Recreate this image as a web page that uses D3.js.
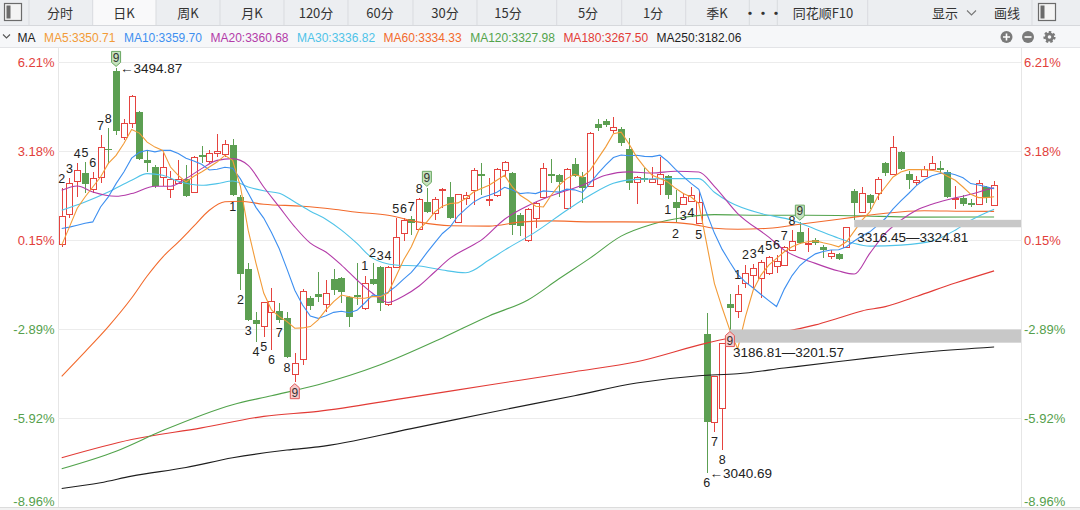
<!DOCTYPE html>
<html>
<head>
<meta charset="utf-8">
<script src="https://cdn.jsdelivr.net/npm/d3@7/dist/d3.min.js"></script>
<style>
  html, body { margin: 0; padding: 0; background: #fff; }
  svg { display: block; font-family: "Liberation Sans", Arial, "Noto Sans CJK SC", sans-serif; }
  .cjk { font-family: "Noto Sans CJK SC", "Liberation Sans", sans-serif; }
</style>
</head>
<body>
<svg id="chart" width="1080" height="510"></svg>
<script>
// daily candles, index 0 = first visible day
const opens = [
  3297.5, 3330.8, 3368.1, 3377.8, 3359.1, 3372.6, 3404.5, 3491.6, 3417.4, 3433.4,
  3445.4, 3391.6, 3383.8, 3372.6, 3359.1, 3365.8, 3370.3, 3355.8, 3397.2, 3390.8,
  3399.1, 3398.3, 3408.4, 3350.2, 3269.5, 3212.4, 3204.6, 3220.2, 3222.5, 3214.6,
  3150.8, 3167.6, 3237.0, 3241.5, 3229.2, 3258.3, 3259.4, 3238.2, 3240.4, 3224.7,
  3258.3, 3271.8, 3229.2, 3271.8, 3309.8, 3325.5, 3314.3, 3344.6, 3332.2, 3358.0,
  3350.2, 3322.2, 3349.0, 3358.0, 3375.9, 3346.8, 3352.4, 3380.4, 3377.0, 3330.0,
  3302.0, 3326.6, 3350.2, 3375.9, 3374.8, 3337.8, 3387.1, 3372.6, 3362.5, 3431.9,
  3435.3, 3425.2, 3426.3, 3403.9, 3367.0, 3371.4, 3367.0, 3364.7, 3373.7, 3344.6,
  3342.3, 3345.7, 3321.0, 3196.7, 3097.0, 3112.7, 3230.3, 3221.7, 3253.8, 3262.8,
  3259.4, 3265.0, 3272.9, 3274.0, 3290.8, 3311.0, 3297.5, 3302.0, 3294.2, 3284.1,
  3286.3, 3294.2, 3356.9, 3333.4, 3352.4, 3354.6, 3388.2, 3375.9, 3400.6, 3375.9,
  3367.0, 3373.7, 3381.5, 3382.6, 3378.2, 3347.9, 3349.0, 3343.4, 3342.3, 3361.4,
  3341.2
];
const highs = [
  3360.2, 3371.4, 3388.2, 3389.4, 3378.2, 3419.6, 3427.4, 3494.87, 3438.6, 3465.5,
  3446.5, 3402.8, 3386.0, 3399.4, 3379.3, 3391.6, 3386.0, 3396.1, 3407.3, 3402.8,
  3420.7, 3414.0, 3415.1, 3352.4, 3276.2, 3221.4, 3232.6, 3248.2, 3231.4, 3221.4,
  3175.4, 3247.1, 3239.3, 3266.2, 3257.2, 3269.5, 3260.6, 3239.3, 3276.2, 3261.7,
  3276.2, 3272.9, 3272.9, 3326.6, 3326.6, 3328.9, 3349.0, 3360.2, 3350.2, 3360.2,
  3367.0, 3353.5, 3355.8, 3382.6, 3388.2, 3371.4, 3382.6, 3390.5, 3378.2, 3332.2,
  3337.8, 3344.6, 3388.2, 3392.7, 3375.9, 3382.6, 3393.8, 3378.2, 3423.0, 3437.5,
  3438.6, 3439.8, 3428.6, 3416.2, 3373.7, 3382.6, 3383.8, 3395.0, 3374.8, 3358.0,
  3354.6, 3361.4, 3355.8, 3220.2, 3149.7, 3186.81, 3241.5, 3251.6, 3274.0, 3275.1,
  3279.6, 3284.1, 3285.2, 3295.3, 3313.2, 3322.2, 3315.4, 3304.2, 3296.4, 3290.8,
  3287.4, 3316.45, 3359.1, 3361.4, 3353.5, 3372.6, 3389.4, 3418.5, 3401.7, 3379.3,
  3373.7, 3384.9, 3396.1, 3390.5, 3380.4, 3362.5, 3352.4, 3347.9, 3369.2, 3362.5,
  3368.1
];
const lows = [
  3294.2, 3326.6, 3350.2, 3354.6, 3354.6, 3365.8, 3387.1, 3419.6, 3414.0, 3427.4,
  3391.6, 3378.2, 3360.2, 3362.5, 3349.0, 3364.7, 3350.2, 3354.6, 3388.2, 3388.2,
  3395.0, 3395.0, 3351.3, 3246.0, 3211.3, 3187.8, 3193.4, 3178.8, 3209.0, 3169.8,
  3143.0, 3162.0, 3223.6, 3232.6, 3221.4, 3240.4, 3231.4, 3204.6, 3229.2, 3223.6,
  3251.6, 3222.5, 3228.1, 3270.6, 3300.9, 3307.6, 3313.2, 3332.2, 3324.4, 3337.8,
  3325.5, 3321.0, 3341.2, 3341.2, 3352.4, 3340.1, 3350.2, 3372.6, 3307.6, 3306.5,
  3299.8, 3315.4, 3349.0, 3365.8, 3350.2, 3336.7, 3372.6, 3343.4, 3361.4, 3424.1,
  3428.6, 3421.8, 3407.3, 3358.0, 3342.3, 3367.0, 3366.4, 3352.4, 3347.9, 3321.0,
  3341.2, 3344.6, 3319.9, 3040.69, 3087.0, 3066.8, 3201.57, 3214.6, 3248.2, 3248.2,
  3237.0, 3262.8, 3265.0, 3272.9, 3289.7, 3297.5, 3288.6, 3296.4, 3281.8, 3280.7,
  3279.6, 3293.0, 3324.81, 3332.2, 3336.7, 3346.8, 3373.7, 3374.8, 3380.4, 3359.1,
  3363.6, 3372.6, 3380.4, 3375.9, 3349.0, 3336.7, 3340.1, 3339.0, 3341.2, 3343.4,
  3340.1
];
const closes = [
  3328.1, 3365.5, 3380.4, 3365.5, 3371.4, 3406.2, 3403.4, 3424.4, 3433.0, 3463.3,
  3392.7, 3388.2, 3362.5, 3383.8, 3370.3, 3369.8, 3351.3, 3395.0, 3395.0, 3399.1,
  3401.7, 3409.5, 3352.4, 3263.9, 3212.4, 3207.9, 3231.4, 3232.6, 3212.4, 3171.0,
  3163.1, 3243.8, 3228.1, 3238.2, 3242.6, 3246.0, 3243.8, 3215.8, 3238.2, 3253.8,
  3252.7, 3231.4, 3271.8, 3305.4, 3324.4, 3321.0, 3347.9, 3333.4, 3347.9, 3359.1,
  3326.6, 3353.5, 3352.4, 3380.4, 3374.5, 3347.9, 3381.5, 3389.4, 3318.8, 3317.7,
  3336.7, 3343.4, 3382.6, 3373.7, 3367.0, 3381.5, 3373.7, 3360.2, 3421.8, 3427.4,
  3430.8, 3428.6, 3410.6, 3365.8, 3372.6, 3369.2, 3370.3, 3375.9, 3352.4, 3337.8,
  3350.2, 3352.4, 3344.6, 3098.2, 3148.6, 3186.0, 3225.8, 3240.4, 3265.0, 3270.6,
  3277.4, 3283.0, 3278.5, 3294.2, 3300.9, 3298.6, 3298.6, 3298.6, 3290.8, 3287.4,
  3280.7, 3316.0, 3343.4, 3354.6, 3343.4, 3370.3, 3377.0, 3406.2, 3381.5, 3369.2,
  3369.2, 3381.5, 3388.2, 3380.4, 3350.2, 3349.0, 3342.3, 3341.2, 3365.8, 3349.0,
  3363.6
];

// moving averages, one value per day
const ma5 = [
  3296.4, 3316.9, 3337.8, 3350.5, 3361.7, 3372.9, 3388.2, 3397.2, 3410.6, 3426.3,
  3422.2, 3412.1, 3406.5, 3402.8, 3384.1, 3374.8, 3367.3, 3373.7, 3378.5, 3384.1,
  3389.7, 3397.2, 3391.6, 3362.5, 3313.2, 3276.2, 3242.6, 3223.6, 3216.1, 3210.5,
  3203.1, 3203.4, 3204.9, 3212.4, 3223.6, 3232.9, 3240.4, 3238.5, 3236.7, 3236.7,
  3238.5, 3238.5, 3242.6, 3260.9, 3279.6, 3294.5, 3314.3, 3322.5, 3333.4, 3340.1,
  3343.1, 3343.8, 3348.7, 3356.1, 3359.9, 3363.6, 3369.2, 3374.8, 3361.7, 3352.4,
  3346.8, 3340.1, 3339.3, 3352.4, 3363.6, 3371.1, 3375.9, 3372.9, 3380.4, 3393.5,
  3406.5, 3421.5, 3423.3, 3410.3, 3395.3, 3384.1, 3374.8, 3371.1, 3367.3, 3360.2,
  3354.3, 3350.5, 3343.1, 3298.3, 3253.5, 3226.0, 3200.6, 3179.8, 3216.1, 3246.0,
  3262.8, 3274.0, 3281.5, 3288.9, 3294.5, 3298.3, 3300.1, 3301.2, 3299.0, 3297.2,
  3294.5, 3300.1, 3312.1, 3324.4, 3333.7, 3350.5, 3361.7, 3372.9, 3378.5, 3381.2,
  3381.2, 3381.2, 3380.4, 3378.5, 3373.7, 3369.2, 3361.7, 3353.5, 3349.8, 3349.8,
  3350.71
];
const ma10 = [
  3315.1, 3316.6, 3318.8, 3321.0, 3322.5, 3339.3, 3350.5, 3365.5, 3378.5, 3394.1,
  3400.6, 3402.9, 3401.1, 3402.9, 3402.8, 3399.2, 3394.0, 3391.0, 3387.2, 3380.8,
  3381.7, 3383.9, 3382.8, 3370.8, 3355.0, 3338.8, 3326.8, 3310.6, 3292.3, 3269.5,
  3245.7, 3229.1, 3216.7, 3214.1, 3217.1, 3220.9, 3222.2, 3220.5, 3223.1, 3231.4,
  3240.3, 3239.1, 3243.4, 3250.1, 3258.3, 3265.8, 3276.2, 3288.0, 3299.0, 3309.5,
  3316.9, 3329.1, 3337.2, 3344.7, 3349.7, 3352.4, 3355.7, 3361.3, 3358.4, 3354.3,
  3355.3, 3354.3, 3357.3, 3356.6, 3355.9, 3359.3, 3358.5, 3355.6, 3365.9, 3376.8,
  3386.2, 3394.8, 3397.6, 3396.8, 3397.4, 3396.1, 3395.8, 3397.4, 3390.4, 3381.5,
  3373.4, 3365.8, 3359.2, 3332.4, 3309.9, 3291.6, 3277.2, 3263.6, 3254.9, 3248.2,
  3240.9, 3234.0, 3227.4, 3247.0, 3262.2, 3273.5, 3280.8, 3286.6, 3289.2, 3290.9,
  3291.2, 3294.5, 3301.0, 3307.0, 3311.3, 3318.5, 3326.3, 3337.1, 3346.2, 3354.4,
  3363.2, 3369.8, 3374.3, 3376.9, 3377.6, 3375.5, 3372.0, 3365.5, 3363.9, 3361.9,
  3359.70
];
// slower averages read at [day, value]
const ma20 = [[0,3358.0],[2,3362.8],[4,3356.1],[7,3351.3],[9,3354.3],[12,3362.5],[14,3362.5],[16,3371.1],[18,3382.3],[20,3391.6],[22,3393.5],[24,3386.0],[26,3361.7],[28,3339.3],[30,3316.9],[32,3298.6],[34,3288.6],[36,3274.0],[38,3257.2],[40,3242.3],[42,3232.0],[44,3239.3],[46,3250.5],[48,3266.2],[50,3281.8],[52,3292.1],[54,3302.0],[57,3325.5],[60,3340.6],[63,3351.8],[67,3363.6],[70,3374.8],[73,3378.7],[76,3377.4],[79,3379.3],[82,3378.5],[84,3362.5],[87,3331.9],[91,3305.4],[93,3290.8],[97,3275.9],[100,3267.3],[102,3263.9],[104,3287.1],[106,3309.5],[108,3324.4],[110,3335.6],[112,3342.3],[114,3347.4],[117,3353.5],[119,3358.6],[120,3360.68]];
const ma30 = [[0,3335.6],[3,3344.9],[6,3356.1],[9,3369.2],[11,3376.7],[13,3374.8],[15,3368.1],[18,3363.6],[20,3365.5],[22,3368.4],[24,3361.7],[26,3357.4],[28,3354.6],[30,3344.9],[32,3334.5],[34,3325.5],[36,3313.2],[38,3298.3],[40,3281.8],[43,3274.0],[46,3272.9],[49,3268.4],[52,3265.4],[55,3279.6],[57,3290.8],[61,3311.3],[65,3335.6],[68,3352.4],[71,3365.8],[74,3370.3],[78,3371.1],[82,3371.1],[84,3355.8],[86,3344.6],[90,3331.9],[94,3324.4],[97,3314.3],[100,3304.2],[102,3298.3],[104,3295.3],[108,3296.4],[112,3300.9],[115,3313.2],[117,3324.4],[120,3336.82]];
const ma60 = [[0,3148.9],[3,3176.6],[6,3204.9],[9,3237.0],[11,3261.7],[13,3283.0],[15,3299.8],[17,3317.7],[19,3335.6],[21,3345.1],[23,3345.7],[26,3342.3],[31,3340.1],[35,3336.7],[38,3333.4],[42,3330.0],[46,3322.2],[50,3318.2],[55,3317.7],[59,3322.2],[63,3323.6],[68,3322.5],[72,3322.5],[77,3322.2],[81,3320.0],[84,3315.4],[87,3314.3],[91,3315.4],[95,3319.9],[99,3324.4],[102,3327.8],[106,3332.2],[111,3335.0],[116,3334.5],[120,3334.33]];
const ma120 = [[0,3045.2],[7,3064.9],[13,3088.1],[22,3117.2],[27,3127.3],[33,3139.6],[41,3162.0],[49,3192.2],[55,3216.9],[60,3234.8],[64,3258.6],[68,3281.8],[72,3306.5],[76,3319.9],[80,3327.5],[84,3330.6],[90,3330.0],[96,3330.0],[102,3329.4],[110,3327.8],[120,3327.98]];
const ma180 = [[0,3057.5],[9,3078.0],[18,3091.1],[26,3104.1],[33,3109.7],[44,3124.3],[55,3139.3],[66,3154.2],[74,3165.4],[83,3186.3],[87,3193.7],[93,3199.3],[97,3206.8],[100,3214.6],[103,3222.5],[106,3227.3],[110,3238.8],[115,3253.8],[120,3267.50]];
const ma250 = [[0,3023.1],[5,3029.5],[9,3036.9],[16,3046.6],[22,3057.5],[29,3066.2],[33,3069.8],[45,3090.3],[55,3108.2],[66,3127.3],[74,3141.5],[82,3149.7],[87,3151.9],[93,3158.3],[100,3165.7],[104,3169.8],[112,3176.9],[120,3182.06]];

const maNames = ['MA5', 'MA10', 'MA20', 'MA30', 'MA60', 'MA120', 'MA180', 'MA250'];
const maLast = ['3350.71', '3359.70', '3360.68', '3336.82', '3334.33', '3327.98', '3267.50', '3182.06'];

// percent axis, relative to the reference close
const basePrice = 3297;
const pctTicks = [6.21, 3.18, 0.15, -2.89, -5.92, -8.96];

// TD sequence counts
const tdIndex = [0, 1, 2, 3, 4, 5, 6, 22, 23, 24, 25, 26, 27, 28, 29, 39, 40, 41, 42, 43, 44, 45, 46, 78, 79, 80, 81, 82, 83, 84, 85, 87, 88, 89, 90, 91, 92, 93, 94];
const tdText = ['2', '3', '4', '5', '6', '7', '8', '1', '2', '3', '4', '5', '6', '7', '8', '1', '2', '3', '4', '5', '6', '7', '8', '1', '2', '3', '4', '5', '6', '7', '8', '1', '2', '3', '4', '5', '6', '7', '8'];
const tdAbove = [1, 1, 1, 1, 1, 1, 1, 0, 0, 0, 0, 0, 0, 0, 0, 1, 1, 1, 1, 1, 1, 1, 1, 0, 0, 0, 0, 0, 0, 0, 0, 1, 1, 1, 1, 1, 1, 1, 1];
const nineIndex = [7, 30, 47, 86, 95];
const nineAbove = [1, 0, 1, 0, 1];

// gap bands
const gapLow = [3186.81, 3316.45];
const gapHigh = [3201.57, 3324.81];
const gapStart = [86, 102];

const tabLabels = ['分时', '日K', '周K', '月K', '120分', '60分', '30分', '15分', '5分', '1分', '季K', '···', '同花顺F10'];

// ---------------------------------------------------------------
const svg = d3.select('#chart');
const colors = {
	up: '#e5433f',
	down: '#5c9f52',
	grid: '#ececec',
	text: '#222',
	ma: ['#f29b38', '#3d8ff0', '#b33ba8', '#4fc3e8', '#f26a2c', '#52a34c', '#e23b36', '#1e1e1e'],
};
const plot = { left: 58, right: 1021, top: 47, bottom: 507 };

const x = d3.scaleLinear().domain([0, closes.length - 1]).range([61.7, 994.1]);
const y = d3.scaleLinear()
	.domain([basePrice * (1 - 0.0896), basePrice * (1 + 0.0621)])
	.range([507.6, 62.3]);
const yPct = (p) => y(basePrice * (1 + p / 100));

// ---- toolbar
const bar = svg.append('g');
bar.append('rect').attr('width', 1080).attr('height', 25).attr('fill', '#eceef1');
bar.append('rect').attr('x', 92.7).attr('width', 63.3).attr('height', 25).attr('fill', '#f9f9fa');
bar.append('line').attr('x1', 0).attr('x2', 1080).attr('y1', 25.5).attr('y2', 25.5).attr('stroke', '#d6d8dc');

const tabDividers = [29, 92.7, 156, 220, 284, 348, 413, 477, 556.7, 621.7, 685.7, 749.3, 777.3, 867.7, 1032];
bar.selectAll('line.div').data(tabDividers).enter().append('line')
	.attr('class', 'div')
	.attr('x1', (d) => d).attr('x2', (d) => d)
	.attr('y1', 0).attr('y2', 25)
	.attr('stroke', '#d9dbdf');

const tabCenters = [60, 124, 188, 252, 316, 380, 445, 508, 588, 653, 717, 763, 823];
bar.selectAll('text.tab').data(tabLabels).enter().append('text')
	.attr('class', 'tab cjk')
	.attr('x', (d, i) => tabCenters[i])
	.attr('y', 17.5)
	.attr('text-anchor', 'middle')
	.attr('font-size', 13)
	.attr('font-weight', (d) => (d === '···' ? 700 : 400))
	.attr('fill', '#333')
	.text((d) => d);

bar.append('text').attr('class', 'cjk').attr('x', 945).attr('y', 17.5)
	.attr('text-anchor', 'middle').attr('font-size', 13).attr('fill', '#333').text('显示');
bar.append('path').attr('d', 'M967,10.5 l4.5,4.5 l4.5,-4.5')
	.attr('fill', 'none').attr('stroke', '#777').attr('stroke-width', 1.1);
bar.append('text').attr('class', 'cjk').attr('x', 1007).attr('y', 17.5)
	.attr('text-anchor', 'middle').attr('font-size', 13).attr('fill', '#333').text('画线');

// panel toggles at both ends
[4.5, 1038.5].forEach((bx) => {
	bar.append('rect').attr('x', bx).attr('y', 3.5).attr('width', 17).attr('height', 17)
		.attr('fill', '#f4f4f4').attr('stroke', '#6b6b6b').attr('stroke-width', 1.2);
	bar.append('rect').attr('x', bx + 2).attr('y', 5.5)
		.attr('width', 4).attr('height', 13).attr('fill', '#6b6b6b');
});

// ---- MA legend row
const row = svg.append('g');
row.append('rect').attr('y', 26).attr('width', 1080).attr('height', 21).attr('fill', '#f6f7f9');
row.append('line').attr('x1', 0).attr('x2', 1080).attr('y1', 47.5).attr('y2', 47.5).attr('stroke', '#e3e4e7');
row.append('path').attr('d', 'M3,34.5 l3.5,3.5 l3.5,-3.5')
	.attr('fill', 'none').attr('stroke', '#555').attr('stroke-width', 1.1);
row.append('text').attr('x', 17.5).attr('y', 41.5).attr('font-size', 12).attr('fill', '#222').text('MA');

// legend items flow left to right with a fixed gap
let legendX = 44;
maNames.forEach((name, i) => {
	const t = row.append('text')
		.attr('x', legendX)
		.attr('y', 41.5)
		.attr('font-size', 12)
		.attr('fill', colors.ma[i])
		.text(`${ name }:${ maLast[ i ] }`);
	legendX += t.node().getComputedTextLength() + 8.5;
});

const iconGrey = '#7a7a7a';
row.append('circle').attr('cx', 1006.5).attr('cy', 37).attr('r', 6).attr('fill', iconGrey);
row.append('path').attr('d', 'M1003,37 h7 M1006.5,33.5 v7').attr('stroke', '#fff').attr('stroke-width', 1.6);
row.append('circle').attr('cx', 1028).attr('cy', 37).attr('r', 6).attr('fill', iconGrey);
row.append('path').attr('d', 'M1024.5,37 h7').attr('stroke', '#fff').attr('stroke-width', 1.6);
row.append('circle').attr('cx', 1049.5).attr('cy', 37).attr('r', 4.6)
	.attr('fill', iconGrey).attr('stroke', iconGrey).attr('stroke-width', 3).attr('stroke-dasharray', '2.2 1.9');
row.append('circle').attr('cx', 1049.5).attr('cy', 37).attr('r', 1.8).attr('fill', '#f6f7f9');

// ---- plot frame and grid
const frame = svg.append('g');
frame.append('line').attr('x1', plot.left + 0.5).attr('x2', plot.left + 0.5)
	.attr('y1', plot.top).attr('y2', plot.bottom).attr('stroke', '#e6e6e6');
frame.append('line').attr('x1', plot.right + 0.5).attr('x2', plot.right + 0.5)
	.attr('y1', plot.top).attr('y2', plot.bottom).attr('stroke', '#e6e6e6');
frame.append('line').attr('x1', 0).attr('x2', 1080)
	.attr('y1', plot.bottom + 0.5).attr('y2', plot.bottom + 0.5).attr('stroke', '#dcdcdc');
frame.append('rect').attr('y', plot.bottom + 1).attr('width', 1080).attr('height', 3).attr('fill', '#f2f2f2');

frame.selectAll('line.grid').data(pctTicks.slice(0, -1)).enter().append('line')
	.attr('class', 'grid')
	.attr('x1', plot.left).attr('x2', plot.right)
	.attr('y1', (d) => Math.round(yPct(d)) + 0.5)
	.attr('y2', (d) => Math.round(yPct(d)) + 0.5)
	.attr('stroke', colors.grid);

const tickColor = (d) => (d >= 0 ? '#e2403b' : '#55a04c');
const tickY = (d) => Math.min(yPct(d), 501);
frame.selectAll('text.ytl').data(pctTicks).enter().append('text')
	.attr('class', 'ytl')
	.attr('x', 54.5).attr('y', tickY)
	.attr('dy', '0.35em')
	.attr('text-anchor', 'end')
	.attr('font-size', 13)
	.attr('fill', tickColor)
	.text((d) => `${ d.toFixed(2) }%`);
frame.selectAll('text.ytr').data(pctTicks).enter().append('text')
	.attr('class', 'ytr')
	.attr('x', 1024).attr('y', tickY)
	.attr('dy', '0.35em')
	.attr('font-size', 13)
	.attr('fill', tickColor)
	.text((d) => `${ d.toFixed(2) }%`);

svg.append('clipPath').attr('id', 'clip')
	.append('rect').attr('x', plot.left + 1).attr('y', plot.top + 1)
	.attr('width', plot.right - plot.left - 1).attr('height', plot.bottom - plot.top - 1);
const g = svg.append('g').attr('clip-path', 'url(#clip)');

// ---- candles
const bw = 5.6;
const candles = closes.map((c, i) => ({ i, o: opens[i], h: highs[i], l: lows[i], c }));
const cg = g.append('g').attr('shape-rendering', 'crispEdges');
candles.forEach((d) => {
	const cx = Math.round(x(d.i)) + 0.5;
	const up = d.c >= d.o;
	const col = up ? colors.up : colors.down;
	const top = y(Math.max(d.o, d.c));
	const bot = y(Math.min(d.o, d.c));
	if (up) {
		cg.append('line').attr('x1', cx).attr('x2', cx).attr('y1', y(d.h)).attr('y2', top).attr('stroke', col);
		cg.append('line').attr('x1', cx).attr('x2', cx).attr('y1', bot).attr('y2', y(d.l)).attr('stroke', col);
		cg.append('rect')
			.attr('x', cx - bw / 2).attr('y', top)
			.attr('width', bw).attr('height', Math.max(1, bot - top))
			.attr('fill', '#fff').attr('stroke', col);
	} else {
		cg.append('line').attr('x1', cx).attr('x2', cx).attr('y1', y(d.h)).attr('y2', y(d.l)).attr('stroke', col);
		cg.append('rect')
			.attr('x', cx - bw / 2 - 0.5).attr('y', top)
			.attr('width', bw + 1).attr('height', Math.max(1.5, bot - top))
			.attr('fill', col);
	}
});

// ---- moving average lines
const daily = (arr) => arr.map((v, i) => [i, v]);
const maSeries = [daily(ma5), daily(ma10), ma20, ma30, ma60, ma120, ma180, ma250];
const lineFor = (i) => d3.line()
	.x((d) => x(d[0]))
	.y((d) => y(d[1]))
	.curve(i < 2 ? d3.curveLinear : d3.curveMonotoneX);
const drawOrder = [7, 6, 5, 4, 3, 2, 1, 0];
drawOrder.forEach((k) => {
	g.append('path')
		.datum(maSeries[k])
		.attr('d', lineFor(k))
		.attr('fill', 'none')
		.attr('stroke', colors.ma[k])
		.attr('stroke-width', 1.1);
});

// ---- gap bands
gapLow.forEach((lo, k) => {
	const x0 = x(gapStart[k]);
	g.append('rect')
		.attr('x', x0).attr('y', y(gapHigh[k]))
		.attr('width', plot.right - x0)
		.attr('height', y(lo) - y(gapHigh[k]))
		.attr('fill', '#c8c8c8');
	svg.append('text')
		.attr('x', x0 + 3).attr('y', y(lo) + 10)
		.attr('dy', '0.35em')
		.attr('font-size', 13.5)
		.attr('fill', colors.text)
		.text(`${ lo.toFixed(2) }—${ gapHigh[k].toFixed(2) }`);
});

// ---- TD counts
const ann = svg.append('g');
ann.selectAll('text.td').data(tdIndex).enter().append('text')
	.attr('class', 'td')
	.attr('x', (d) => x(d))
	.attr('y', (d, k) => (tdAbove[k] ? y(highs[d]) - 10 : y(lows[d]) + 10))
	.attr('dy', '0.35em')
	.attr('text-anchor', 'middle')
	.attr('font-size', 12.5)
	.attr('fill', colors.text)
	.text((d, k) => tdText[k]);

nineIndex.forEach((d, k) => {
	const cx = x(d);
	const above = nineAbove[k];
	const tip = above ? y(highs[d]) - 2 : y(lows[d]) + 2;
	const path = above
		? `M${ cx - 4.5 },${ tip - 15 } h9 v11 l-4.5,4 l-4.5,-4 z`
		: `M${ cx - 4.5 },${ tip + 15 } h9 v-11 l-4.5,-4 l-4.5,4 z`;
	ann.append('path')
		.attr('d', path)
		.attr('fill', above ? '#c5e2bd' : '#f7caca')
		.attr('stroke', above ? '#6aa862' : '#e05a5a')
		.attr('stroke-width', 1);
	ann.append('text')
		.attr('x', cx)
		.attr('y', above ? tip - 9 : tip + 9.5)
		.attr('dy', '0.35em')
		.attr('text-anchor', 'middle')
		.attr('font-size', 12)
		.attr('fill', '#333')
		.text('9');
});

// ---- extreme price markers
const hiIdx = d3.maxIndex(highs);
const loIdx = d3.minIndex(lows);
ann.append('text')
	.attr('x', x(hiIdx) + 4).attr('y', y(highs[hiIdx]))
	.attr('dy', '0.35em').attr('font-size', 13.5).attr('fill', colors.text)
	.text(`←${ highs[hiIdx].toFixed(2) }`);
ann.append('text')
	.attr('x', x(loIdx) + 3).attr('y', y(lows[loIdx]))
	.attr('dy', '0.35em').attr('font-size', 13.5).attr('fill', colors.text)
	.text(`←${ lows[loIdx].toFixed(2) }`);
</script>
</body>
</html>
